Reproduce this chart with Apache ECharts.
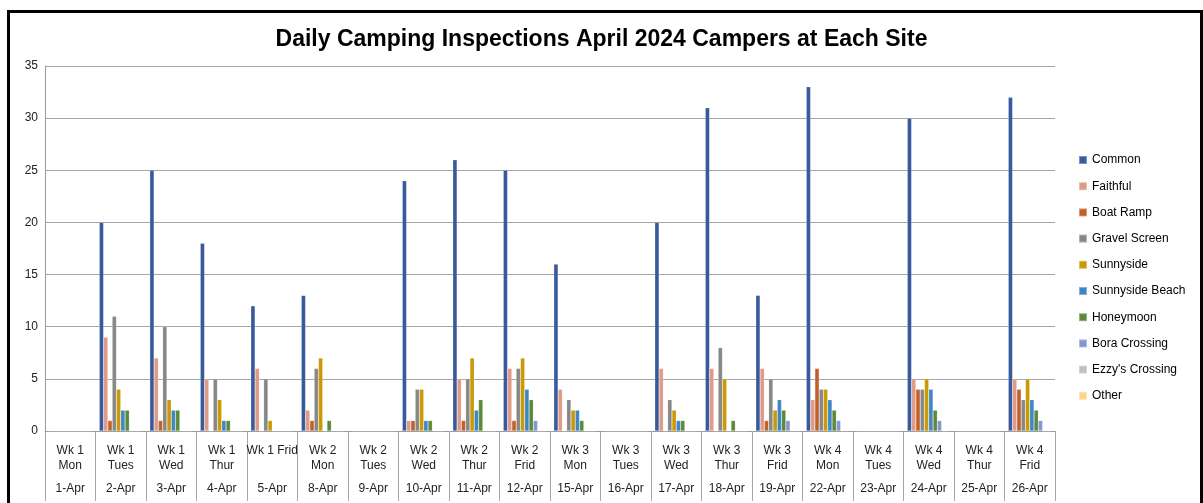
<!DOCTYPE html>
<html>
<head>
<meta charset="utf-8">
<script src="https://cdn.jsdelivr.net/npm/echarts@6/dist/echarts.min.js"></script>
<style>
  html, body { margin: 0; padding: 0; background: #fff; }
  #chart { width: 1203px; height: 503px; }
</style>
</head>
<body>
<div id="chart"></div>
<script>
// category labels (two rows under each group)
const dayLabels = [
  'Wk 1\nMon', 'Wk 1\nTues', 'Wk 1\nWed', 'Wk 1\nThur', 'Wk 1 Frid',
  'Wk 2\nMon', 'Wk 2\nTues', 'Wk 2\nWed', 'Wk 2\nThur', 'Wk 2\nFrid',
  'Wk 3\nMon', 'Wk 3\nTues', 'Wk 3\nWed', 'Wk 3\nThur', 'Wk 3\nFrid',
  'Wk 4\nMon', 'Wk 4\nTues', 'Wk 4\nWed', 'Wk 4\nThur', 'Wk 4\nFrid'
]
const dates = [
  '1-Apr', '2-Apr', '3-Apr', '4-Apr', '5-Apr', '8-Apr', '9-Apr', '10-Apr', '11-Apr', '12-Apr',
  '15-Apr', '16-Apr', '17-Apr', '18-Apr', '19-Apr', '22-Apr', '23-Apr', '24-Apr', '25-Apr', '26-Apr'
]
const yTicks = [0, 5, 10, 15, 20, 25, 30, 35]

// campers per site, one value per day above
const common         = [0, 20, 25, 18, 12, 13, 0, 24, 26, 25, 16, 0, 20, 31, 13, 33, 0, 30, 0, 32]
const faithful       = [0, 9, 7, 5, 6, 2, 0, 1, 5, 6, 4, 0, 6, 6, 6, 3, 0, 5, 0, 5]
const boatRamp       = [0, 1, 1, 0, 0, 1, 0, 1, 1, 1, 0, 0, 0, 0, 1, 6, 0, 4, 0, 4]
const gravelScreen   = [0, 11, 10, 5, 5, 6, 0, 4, 5, 6, 3, 0, 3, 8, 5, 4, 0, 4, 0, 3]
const sunnyside      = [0, 4, 3, 3, 1, 7, 0, 4, 7, 7, 2, 0, 2, 5, 2, 4, 0, 5, 0, 5]
const sunnysideBeach = [0, 2, 2, 1, 0, 0, 0, 1, 2, 4, 2, 0, 1, 0, 3, 3, 0, 4, 0, 3]
const honeymoon      = [0, 2, 2, 1, 0, 1, 0, 1, 3, 3, 1, 0, 1, 1, 2, 2, 0, 2, 0, 2]
const boraCrossing   = [0, 0, 0, 0, 0, 0, 0, 0, 0, 1, 0, 0, 0, 0, 1, 1, 0, 1, 0, 1]
const ezzysCrossing  = [0, 0, 0, 0, 0, 0, 0, 0, 0, 0, 0, 0, 0, 0, 0, 0, 0, 0, 0, 0]
const other          = [0, 0, 0, 0, 0, 0, 0, 0, 0, 0, 0, 0, 0, 0, 0, 0, 0, 0, 0, 0]

const seriesList = [
  ['Common', common, '#385A9C'],
  ['Faithful', faithful, '#DE9A86'],
  ['Boat Ramp', boatRamp, '#C0602A'],
  ['Gravel Screen', gravelScreen, '#878787'],
  ['Sunnyside', sunnyside, '#C99A06'],
  ['Sunnyside Beach', sunnysideBeach, '#3F86C6'],
  ['Honeymoon', honeymoon, '#5A8A3A'],
  ['Bora Crossing', boraCrossing, '#8496CE'],
  ["Ezzy's Crossing", ezzysCrossing, '#BFBFBF'],
  ['Other', other, '#FFD38C']
]

const chart = echarts.init(document.getElementById('chart'))
const font = 'Liberation Sans, Arial, sans-serif'

chart.setOption({
  animation: false,
  title: {
    text: 'Daily Camping Inspections April 2024 Campers at Each Site',
    left: 'center',
    top: 23,
    textStyle: { fontFamily: font, fontSize: 23, fontWeight: 'bold', color: '#000' }
  },
  legend: {
    orient: 'vertical',
    left: 1073,
    top: 149,
    itemWidth: 8,
    itemHeight: 8,
    itemGap: 14.2,
    icon: 'rect',
    textStyle: { fontFamily: font, fontSize: 12, color: '#000' },
    data: seriesList.map(s => s[0])
  },
  grid: {
    left: 45,
    right: 148,
    top: 66,
    bottom: 72,
    containLabel: false
  },
  xAxis: [
    {
      type: 'category',
      data: dayLabels,
      axisLine: { lineStyle: { color: '#9a9a9a' } },
      axisTick: { show: true, interval: 0, length: 70, lineStyle: { color: '#a6a6a6' } },
      axisLabel: {
        interval: 0,
        margin: 12,
        lineHeight: 15,
        fontFamily: font,
        fontSize: 12,
        color: '#222'
      }
    },
    {
      type: 'category',
      position: 'bottom',
      data: dates,
      axisLine: { show: false },
      axisTick: { show: false },
      axisLabel: {
        interval: 0,
        margin: 52,
        fontFamily: font,
        fontSize: 12,
        color: '#222'
      }
    }
  ],
  yAxis: {
    type: 'value',
    min: 0,
    max: 35,
    interval: 5,
    axisLine: { show: true, lineStyle: { color: '#9a9a9a' } },
    axisTick: { show: false },
    splitLine: { lineStyle: { color: '#a6a6a6' } },
    axisLabel: {
      margin: 7,
      fontFamily: font,
      fontSize: 12,
      color: '#222',
      formatter: v => (yTicks.includes(v) ? String(v) : '')
    }
  },
  graphic: [
    {
      type: 'polyline',
      shape: { points: [[8.5, 520], [8.5, 11.5], [1201.5, 11.5], [1201.5, 520]] },
      style: { stroke: '#000', lineWidth: 3, fill: null }
    }
  ],
  series: seriesList.map(([name, values, color]) => ({
    name,
    type: 'bar',
    xAxisIndex: 0,
    barGap: '0%',
    barCategoryGap: '15%',
    itemStyle: { color, borderColor: 'rgba(255,255,255,0.35)', borderWidth: 0.5 },
    data: values
  }))
})
</script>
</body>
</html>
